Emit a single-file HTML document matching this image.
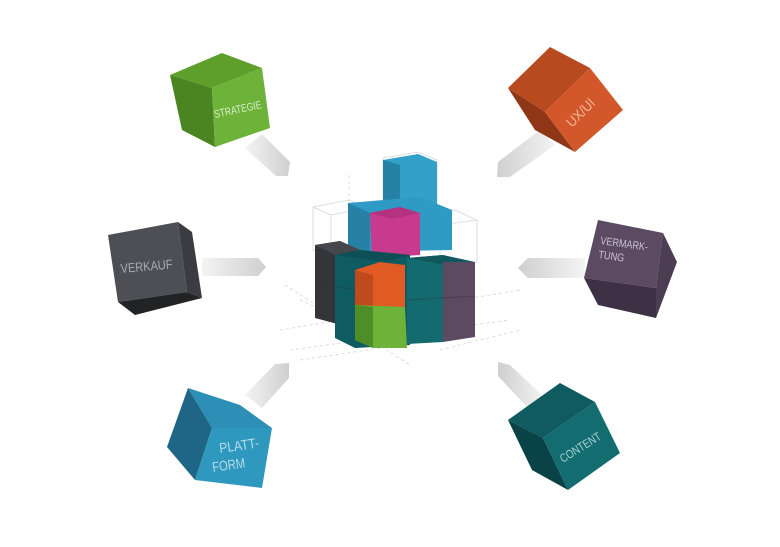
<!DOCTYPE html>
<html><head><meta charset="utf-8"><style>
html,body{margin:0;padding:0;background:#fff;}
svg{display:block;}
text{font-family:"Liberation Sans",sans-serif;}
</style></head><body>
<svg width="780" height="547" viewBox="0 0 780 547" xmlns="http://www.w3.org/2000/svg">
<defs>
<linearGradient id="g1" x1="0" y1="0" x2="1" y2="0"><stop offset="0" stop-color="#f4f4f4"/><stop offset="1" stop-color="#cfcfcf"/></linearGradient>
<linearGradient id="g2" x1="1" y1="0" x2="0" y2="0"><stop offset="0" stop-color="#f4f4f4"/><stop offset="1" stop-color="#cfcfcf"/></linearGradient>
</defs>
<g stroke="#d4d4d4" stroke-width="0.8" stroke-dasharray="3,3" fill="none">
<line x1="280" y1="330" x2="520" y2="290"/>
<line x1="290" y1="350" x2="510" y2="320"/>
<line x1="300" y1="360" x2="470" y2="335"/>
<line x1="285" y1="285" x2="410" y2="365"/>
<line x1="300" y1="300" x2="400" y2="345"/>
<line x1="440" y1="350" x2="520" y2="330"/>
<line x1="349" y1="175" x2="349" y2="240"/>
</g>
<polygon points="245,148 262,134 290,162 288,176 276,176" fill="url(#g1)"/>
<polygon points="202,258 258,258 266,267 258,276 202,276" fill="url(#g1)"/>
<polygon points="245,395 262,408 289,378 289,363 275,364" fill="url(#g1)"/>
<polygon points="540,130 555,145 510,177 497,177 498,162" fill="url(#g2)"/>
<polygon points="585,258 528,258 518,268 528,278 585,278" fill="url(#g2)"/>
<polygon points="530,410 545,398 510,365 498,362 498,376" fill="url(#g2)"/>
<!-- Strategie -->
<polygon points="170,75 222,53 262,68 212,88" fill="#5e9e2a"/>
<polygon points="170,75 212,88 215,147 182,130" fill="#4a8522"/>
<polygon points="212,88 262,68 270,128 215,147" fill="#6db33a"/>
<text transform="translate(215,118) rotate(-12)" font-size="11" textLength="48" lengthAdjust="spacingAndGlyphs" fill="#d8ecc8">STRATEGIE</text>
<!-- Verkauf -->
<polygon points="108,235 178,222 187,292 118,302" fill="#4d4f55"/>
<polygon points="178,222 192,232 202,298 187,292" fill="#3a3c41"/>
<polygon points="118,302 187,292 202,298 135,315" fill="#222325"/>
<text transform="translate(121,273) rotate(-5)" font-size="13" textLength="52" lengthAdjust="spacingAndGlyphs" fill="#a9abb0">VERKAUF</text>
<!-- UX/UI -->
<polygon points="508,88 550,47 590,68 545,112" fill="#b84a20"/>
<polygon points="508,88 545,112 575,152 535,130" fill="#8e3616"/>
<polygon points="545,112 590,68 623,110 575,152" fill="#d2572a"/>
<text transform="translate(572,128) rotate(-45)" font-size="14" textLength="34" lengthAdjust="spacingAndGlyphs" fill="#f0b89a">UX/UI</text>
<!-- Vermarktung -->
<polygon points="598,220 663,233 656,288 584,278" fill="#5b4a62"/>
<polygon points="663,233 677,262 656,318 656,288" fill="#4c3d52"/>
<polygon points="584,278 656,288 656,318 598,305" fill="#3f3145"/>
<text transform="translate(600,244) rotate(8)" font-size="11" textLength="48" lengthAdjust="spacingAndGlyphs" fill="#cdc2d2">VERMARK-</text>
<text transform="translate(598,258) rotate(8)" font-size="11" textLength="26" lengthAdjust="spacingAndGlyphs" fill="#cdc2d2">TUNG</text>
<!-- Plattform -->
<polygon points="188,388 240,405 272,428 212,428" fill="#2d8fb5"/>
<polygon points="188,388 212,428 195,480 167,447" fill="#1f6585"/>
<polygon points="212,428 272,428 262,488 195,480" fill="#2e98bf"/>
<text transform="translate(220,453) rotate(-8)" font-size="14" textLength="40" lengthAdjust="spacingAndGlyphs" fill="#b6dbe9">PLATT-</text>
<text transform="translate(213,472) rotate(-8)" font-size="14" textLength="33" lengthAdjust="spacingAndGlyphs" fill="#b6dbe9">FORM</text>
<!-- Content -->
<polygon points="508,420 560,383 595,402 543,438" fill="#0f5b5f"/>
<polygon points="508,420 543,438 568,490 532,470" fill="#0a4347"/>
<polygon points="543,438 595,402 620,453 568,490" fill="#136c70"/>
<text transform="translate(563,463) rotate(-32)" font-size="12" textLength="46" lengthAdjust="spacingAndGlyphs" fill="#a5cfd1">CONTENT</text>
<!-- center stack -->
<g stroke="#cfd8dc" stroke-width="0.8" fill="none">
<polygon points="313,207 349,200 367,208 367,253 331,258 313,250"/>
<line x1="331" y1="215" x2="331" y2="258"/><line x1="313" y1="207" x2="331" y2="215"/><line x1="331" y1="215" x2="367" y2="208"/>
<polygon points="420,215 455,210 477,220 477,262 440,268 420,260"/>
<line x1="440" y1="225" x2="440" y2="268"/><line x1="420" y1="215" x2="440" y2="225"/><line x1="440" y1="225" x2="477" y2="220"/>
<polygon points="383,158 418,152 437,160 437,212 400,218 383,212"/>
</g>
<polygon points="383,160 418,154 437,162 437,212 400,217 383,211" fill="#32a0c8"/>
<polygon points="383,160 400,165 400,217 383,211" fill="#2580a5"/>
<polygon points="348,203 420,197 452,210 452,250 348,252" fill="#2f9ac3"/>
<polygon points="348,203 370,213 370,252 348,252" fill="#2780a6"/>
<polygon points="370,213 400,207 420,213 420,255 372,258" fill="#c73a8e"/>
<polygon points="370,213 400,207 420,213 392,219" fill="#b33380"/>
<polygon points="315,245 340,241 360,250 360,330 315,318" fill="#333538"/>
<polygon points="315,245 340,241 360,250 335,255" fill="#45474c"/>
<polygon points="335,255 360,250 410,255 410,345 355,348 335,338" fill="#0e5b62"/>
<polygon points="335,255 360,250 410,255 385,262" fill="#0c4f55"/>
<polygon points="407,258 443,255 443,342 407,344" fill="#136b70"/>
<polygon points="407,258 443,255 475,262 445,265" fill="#10585d"/>
<polygon points="443,262 475,262 475,337 443,342" fill="#5b4a62"/>
<polygon points="355,270 380,262 405,265 405,307 355,307" fill="#e05a24"/>
<polygon points="355,270 373,275 373,307 355,305" fill="#c04a1c"/>
<polygon points="355,305 405,307 407,348 373,348 355,340" fill="#6db33a"/>
<polygon points="355,305 373,307 373,348 355,340" fill="#4f8e26"/>
<g stroke="#2a2c30" stroke-opacity="0.35" stroke-width="1">
<line x1="315" y1="282" x2="355" y2="290"/>
<line x1="407" y1="300" x2="475" y2="296"/>
</g>
</svg>
</body></html>
